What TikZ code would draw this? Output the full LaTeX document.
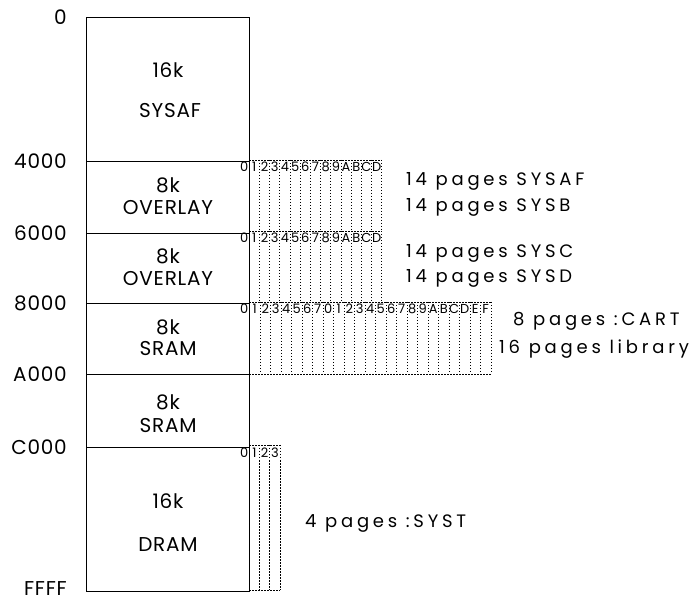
\documentclass[tikz,border=0pt]{standalone}
\usepackage{fontspec}
\setmainfont{Poppins}
\begin{document}
\begin{tikzpicture}[x=1pt, y=-1pt,
  region/.style = {draw, line width=1pt},
  addr/.style = {anchor=base east, inner sep=0pt, font=\fontsize{20}{20}\selectfont\addfontfeatures{LetterSpace=4}},
  lbl/.style = {anchor=base, inner sep=0pt, font=\fontsize{20}{20}\selectfont\addfontfeatures{LetterSpace=4}},
  note/.style = {anchor=base west, inner sep=0pt, font=\fontsize{18}{18}\selectfont\addfontfeatures{LetterSpace=21}},
  digit/.style = {anchor=base, inner sep=0pt, font=\fontsize{13}{13}\selectfont},
  pagegrid/.style = {line width=0.8pt, dash pattern=on 1.5pt off 1.5pt}]
\useasboundingbox (0,0) rectangle (699,601);

% addresses
\node[addr] (a0) at (67,25) {0};
\node[addr] (a4) at (67,169) {4000};
\node[addr] (a6) at (67,241) {6000};
\node[addr] (a8) at (67,311) {8000};
\node[addr] (aA) at (67,382) {A000};
\node[addr] (aC) at (67,455) {C000};
\node[addr] (aF) at (67,595) {FFFF};

% memory regions
\draw[region] (86,18) rectangle (249,591);
\foreach \y in {162,234,304,375,448}
  \draw[region] (86,\y) -- (249,\y);

\node[lbl] (k1) at (168,78) {16k};
\node[lbl] (n1) at (170,118) {SYSAF};
\node[lbl] (k2) at (168,193) {8k};
\node[lbl] (n2) at (168,215) {OVERLAY};
\node[lbl] (k3) at (168,264) {8k};
\node[lbl] (n3) at (168,286) {OVERLAY};
\node[lbl] (k4) at (168,335) {8k};
\node[lbl] (n4) at (168,356) {SRAM};
\node[lbl] (k5) at (168,410) {8k};
\node[lbl] (n5) at (168,433) {SRAM};
\node[lbl] (k6) at (168,508) {16k};
\node[lbl] (n6) at (168,551) {DRAM};

% page grids
\foreach \top/\bot/\n/\w in {160/231/14/10.2, 231/302/14/10.2, 302/374/24/10.5, 445/590/4/10.25} {
  \draw[pagegrid] (249,\top) -- (239+\n*\w,\top);
  \foreach \i in {1,...,\n}
    \draw[pagegrid] (239+\i*\w,\top) -- (239+\i*\w,\bot);
}
\draw[pagegrid] (249,374) -- (491,374);
\draw[pagegrid] (249,590) -- (280,590);

\foreach \c [count=\k from 0] in {0,1,2,3,4,5,6,7,8,9,A,B,C,D} {
  \node[digit] (p\k) at (244.1+\k*10.2,172) {\c};
  \node[digit] (q\k) at (244.1+\k*10.2,243) {\c};
}
\foreach \c [count=\k from 0] in {0,1,2,3,4,5,6,7,0,1,2,3,4,5,6,7,8,9,A,B,C,D,E,F}
  \node[digit] (r\k) at (244.25+\k*10.5,314) {\c};
\foreach \c [count=\k from 0] in {0,1,2,3}
  \node[digit] (s\k) at (244.1+\k*10.25,457) {\c};

% page notes
\node[note] (sysaf) at (406,186) {14 pages SYSAF};
\node[note] (sysb) at (406,212) {14 pages SYSB};
\node[note] (sysc) at (406,258) {14 pages SYSC};
\node[note] (sysd) at (406,283) {14 pages SYSD};
\node[note] (cart) at (513,326) {8 pages :CART};
\node[note] (lib) at (499,354) {16 pages library};
\node[note] (syst) at (305,527) {4 pages :SYST};
\end{tikzpicture}
\end{document}
